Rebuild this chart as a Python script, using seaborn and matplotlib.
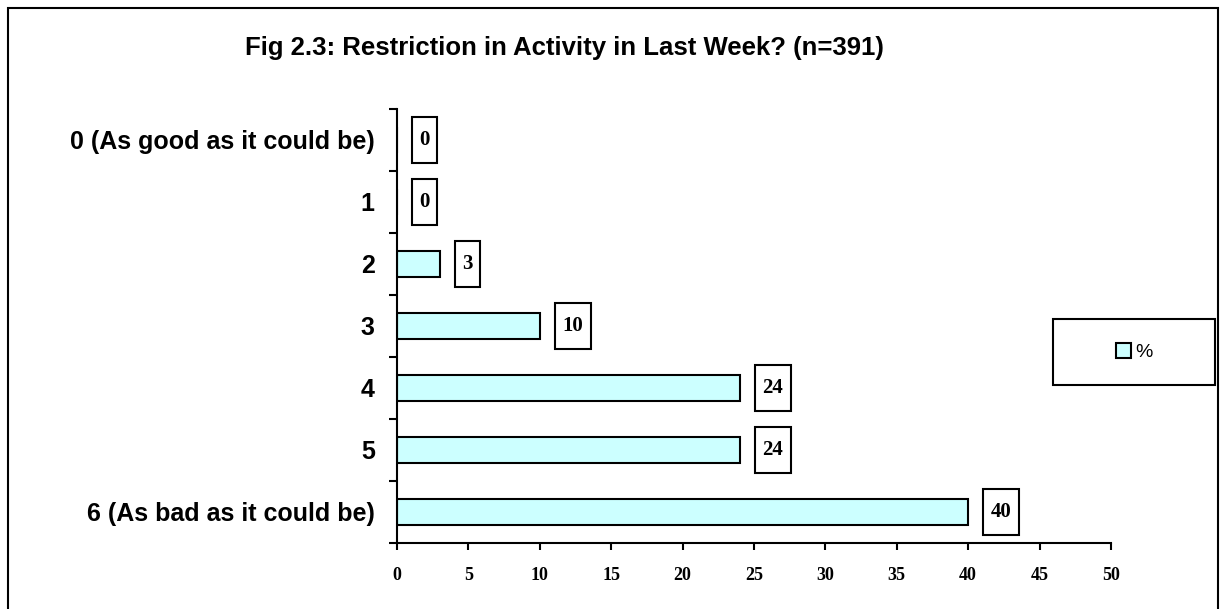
import matplotlib
matplotlib.use("Agg")
import matplotlib.pyplot as plt
import seaborn as sns
import pandas as pd
from matplotlib.patches import Rectangle, Patch

# data
categories = ['0 (As good as it could be)', '1', '2', '3', '4', '5',
              '6 (As bad as it could be)']
pct = [0, 0, 3, 10, 24, 24, 40]
xticks = [0, 5, 10, 15, 20, 25, 30, 35, 40, 45, 50]

df = pd.DataFrame({'cat': categories, 'pct': pct})

sns.set_style('white', {'text.color': 'black', 'xtick.color': 'black',
                        'ytick.color': 'black', 'axes.edgecolor': 'black'})
plt.rcParams['font.family'] = ['Liberation Sans', 'DejaVu Sans']

fig = plt.figure(figsize=(12.2, 6.09), dpi=100)
ax = fig.add_axes([0.3254, 0.1084, 0.5852, 0.7127])

sns.barplot(data=df, x='pct', y='cat', orient='h', color='#CCFFFF',
            edgecolor='black', linewidth=1.5, width=0.43, saturation=1, ax=ax)

ax.set_xlim(0, 50)
ax.set_ylim(6.5, -0.5)
ax.set_xticks(xticks)
ax.set_xticklabels([str(t) for t in xticks], family='Liberation Serif',
                   fontweight='bold', fontsize=13)
ax.set_yticks(range(len(categories)))
ax.set_yticklabels(categories, fontweight='bold', fontsize=18)
ax.set_yticks([i - 0.5 for i in range(len(categories) + 1)], minor=True)
ax.tick_params(axis='y', which='major', length=0, pad=16, left=True)
ax.tick_params(axis='y', which='minor', length=6, width=1.5, direction='out', left=True)
ax.tick_params(axis='x', length=5, width=1.5, direction='out', pad=12, bottom=True)
ax.set_xlabel('')
ax.set_ylabel('')
for s in ['top', 'right']:
    ax.spines[s].set_visible(False)
for s in ['left', 'bottom']:
    ax.spines[s].set_linewidth(1.5)

# value boxes (sizes in pixels, converted to data units)
px_x = ax.transData.transform((1, 0))[0] - ax.transData.transform((0, 0))[0]
px_y = abs(ax.transData.transform((0, 1))[1] - ax.transData.transform((0, 0))[1])
gap, box_h = 15, 46
for i, v in enumerate(pct):
    lab = str(v)
    box_w = 14 + 11 * len(lab)
    x0 = v + gap / px_x
    w = box_w / px_x
    h = box_h / px_y
    ax.add_patch(Rectangle((x0, i - h / 2), w, h, fc='white', ec='black',
                           lw=1.5, clip_on=False, zorder=3))
    ax.text(x0 + w / 2, i, lab, ha='center', va='center', family='Liberation Serif',
            fontweight='bold', fontsize=15, zorder=4)

fig.text(0.4627, 0.921, 'Fig 2.3: Restriction in Activity in Last Week? (n=391)',
         ha='center', va='center', fontweight='bold', fontsize=18.5)

# legend
fig.patches.append(Rectangle((1053 / 1220, 1 - 385 / 609), 162 / 1220, 66 / 609,
                             transform=fig.transFigure, fill=False, ec='black', lw=1.5))
fig.legend(handles=[Patch(facecolor='#CCFFFF', edgecolor='black', linewidth=1.5)],
           labels=['%'], loc='center', bbox_to_anchor=(1134 / 1220, 1 - 352 / 609),
           frameon=False, handlelength=0.8, handleheight=0.8,
           handletextpad=0.2, prop={'size': 14})

# outer border
fig.patches.append(Rectangle((0.0066, -0.01), 0.9918, 0.997, transform=fig.transFigure,
                             fill=False, ec='black', lw=1.5))

fig.savefig('out.png', dpi=100)
